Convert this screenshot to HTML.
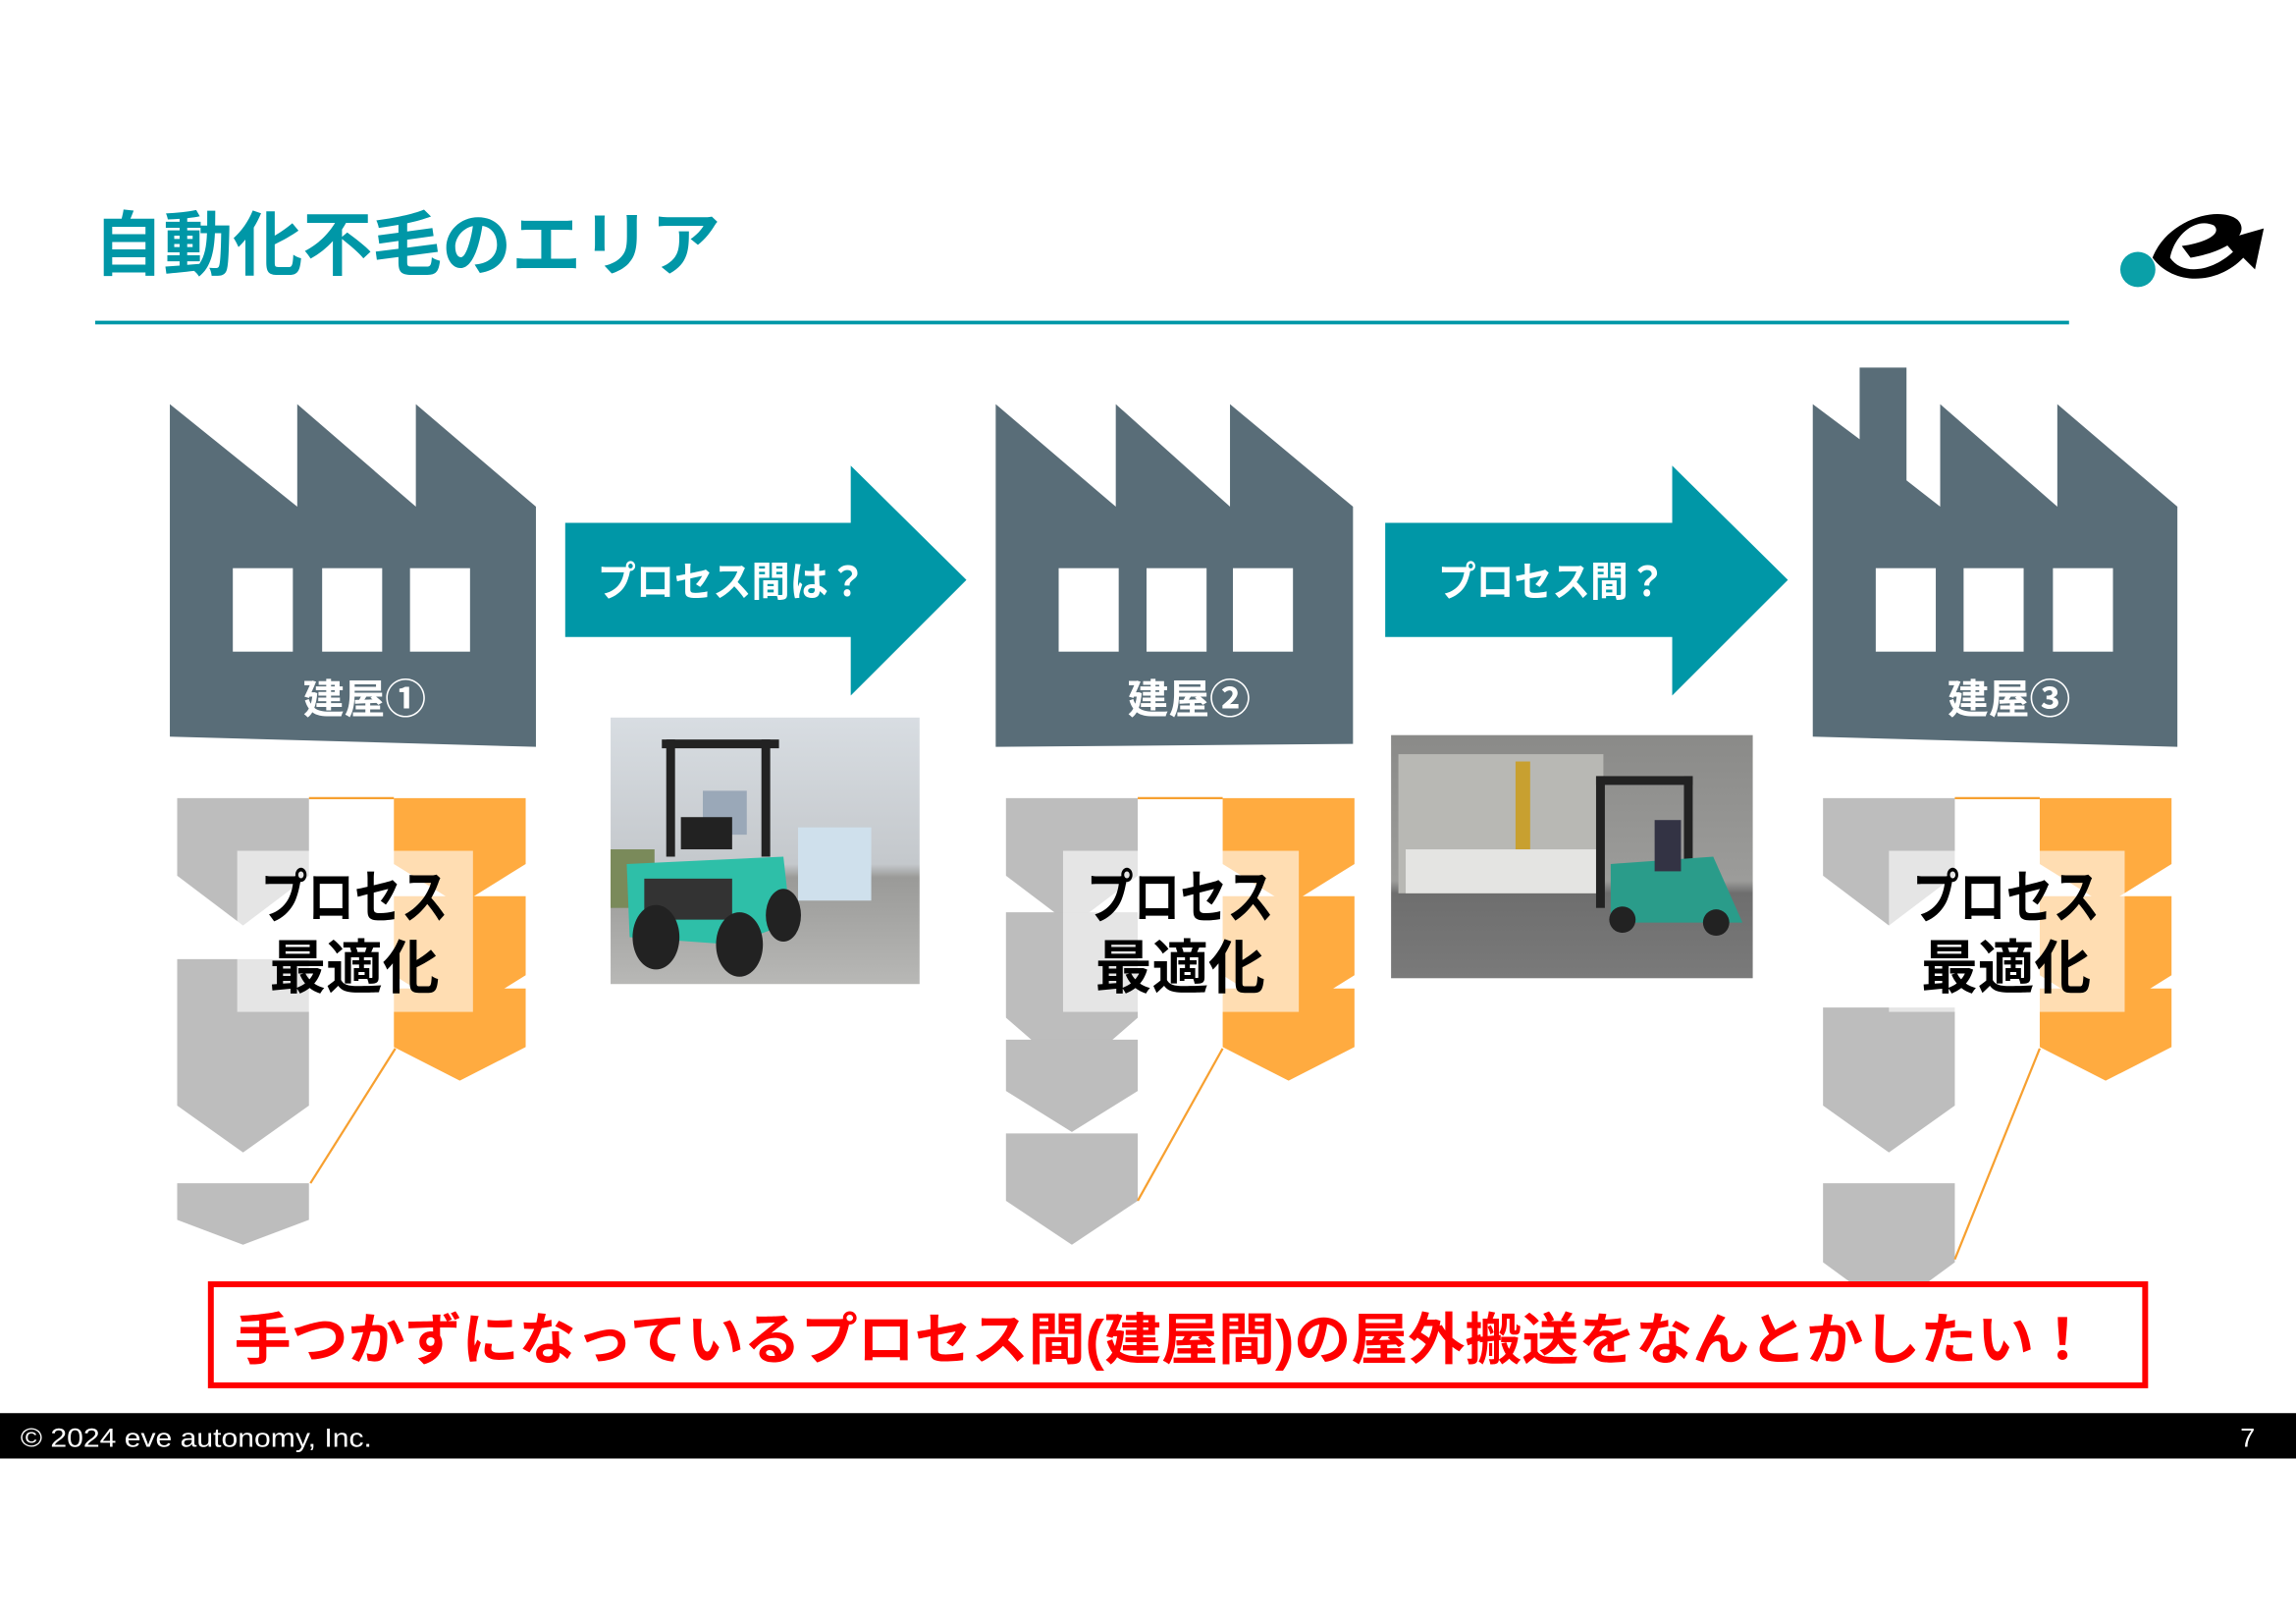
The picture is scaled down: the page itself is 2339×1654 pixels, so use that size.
<!DOCTYPE html>
<html><head><meta charset="utf-8"><style>
html,body{margin:0;padding:0;background:#fff;}
svg{display:block;}
text{font-family:"Liberation Sans","Noto Sans CJK JP",sans-serif;font-weight:bold;}
</style></head><body>
<svg width="2339" height="1654" viewBox="0 0 1568 1109" preserveAspectRatio="none" xmlns="http://www.w3.org/2000/svg">
<rect width="1568" height="1109" fill="#fff"/>
<text x="64" y="184" font-size="48" fill="#0097a7" textLength="428" lengthAdjust="spacingAndGlyphs">自動化不毛のエリア</text>
<rect x="65" y="219" width="1348" height="2.5" fill="#0097a7"/>
<circle cx="1460" cy="184" r="12" fill="#0aa0a8"/>
<path d="M1470 176 C1480 150 1515 140 1528 150 C1538 160 1520 172 1496 176 L1490 168 C1505 166 1518 160 1512 154 C1500 148 1485 160 1482 176 C1490 188 1510 186 1525 172 L1518 164 L1546 156 L1540 184 L1532 176 C1515 194 1485 196 1470 176 Z" fill="#000"/>

<g fill="#596d78">
<path d="M116 276 L203 346 L203 276 L284 346 L284 276 L366 346 L366 510 L116 503 Z"/>
<path d="M680 276 L762 346 L762 276 L840 346 L840 276 L924 346 L924 508 L680 510 Z"/>
<path d="M1238 276 L1270 300 L1270 251 L1302 251 L1302 328 L1325 346 L1325 276 L1405 346 L1405 276 L1487 346 L1487 510 L1238 503 Z"/>
</g>
<g fill="#fff">
<rect x="159" y="388" width="41" height="57"/><rect x="220" y="388" width="41" height="57"/><rect x="280" y="388" width="41" height="57"/>
<rect x="723" y="388" width="41" height="57"/><rect x="783" y="388" width="41" height="57"/><rect x="842" y="388" width="41" height="57"/>
<rect x="1281" y="388" width="41" height="57"/><rect x="1341" y="388" width="41" height="57"/><rect x="1402" y="388" width="41" height="57"/>
</g>
<g fill="#fff" font-size="28" text-anchor="middle">
<text x="249" y="487">建屋①</text>
<text x="812" y="487">建屋②</text>
<text x="1372" y="487">建屋③</text>
</g>

<path d="M386 357 L581 357 L581 318 L660 396 L581 475 L581 435 L386 435 Z" fill="#0097a7"/>
<path d="M946 357 L1142 357 L1142 318 L1221 396 L1142 475 L1142 435 L946 435 Z" fill="#0097a7"/>
<text x="500" y="407" font-size="28" fill="#fff" text-anchor="middle" textLength="184" lengthAdjust="spacingAndGlyphs">プロセス間は？</text>
<text x="1060" y="407" font-size="28" fill="#fff" text-anchor="middle" textLength="156" lengthAdjust="spacingAndGlyphs">プロセス間？</text>

<defs>
<linearGradient id="g1" x1="0" y1="0" x2="0" y2="1"><stop offset="0" stop-color="#d8dde2"/><stop offset="0.55" stop-color="#c4c8cc"/><stop offset="0.6" stop-color="#9a9a98"/><stop offset="1" stop-color="#b8b8b6"/></linearGradient>
<linearGradient id="g2" x1="0" y1="0" x2="0" y2="1"><stop offset="0" stop-color="#8a8a88"/><stop offset="0.6" stop-color="#9c9c9a"/><stop offset="0.65" stop-color="#6e6e6e"/><stop offset="1" stop-color="#7a7a7a"/></linearGradient>
</defs>
<rect x="417" y="490" width="211" height="182" fill="url(#g1)"/>
<rect x="417" y="580" width="30" height="40" fill="#7a8a5a"/>
<rect x="455" y="505" width="6" height="80" fill="#222"/><rect x="520" y="505" width="6" height="80" fill="#222"/>
<rect x="452" y="505" width="80" height="6" fill="#222"/>
<rect x="480" y="540" width="30" height="30" fill="#9aa8b8"/>
<rect x="465" y="558" width="35" height="22" fill="#222"/>
<rect x="545" y="565" width="50" height="50" fill="#cfe0ec"/>
<path d="M428 590 L535 585 L540 630 L500 645 L430 640 Z" fill="#2ebfa8"/>
<rect x="440" y="600" width="60" height="28" fill="#333"/>
<ellipse cx="448" cy="640" rx="16" ry="22" fill="#222"/>
<ellipse cx="505" cy="645" rx="16" ry="22" fill="#222"/>
<ellipse cx="535" cy="625" rx="12" ry="18" fill="#222"/>

<rect x="950" y="502" width="247" height="166" fill="url(#g2)"/>
<rect x="955" y="515" width="140" height="95" fill="#b8b8b4"/>
<rect x="960" y="580" width="130" height="30" fill="#e4e4e2"/>
<rect x="1035" y="520" width="10" height="60" fill="#c8a030"/>
<rect x="1090" y="530" width="6" height="90" fill="#222"/><rect x="1150" y="530" width="6" height="90" fill="#222"/>
<rect x="1090" y="530" width="66" height="6" fill="#222"/>
<path d="M1100 590 L1170 585 L1190 630 L1100 630 Z" fill="#2a9c8a"/>
<rect x="1130" y="560" width="18" height="35" fill="#334"/>
<circle cx="1108" cy="628" r="9" fill="#222"/><circle cx="1172" cy="630" r="9" fill="#222"/>

<g fill="#bdbdbd">
<path d="M121 545 L211 545 L211 598 L166 632 L121 598 Z"/>
<path d="M121 655 L211 655 L211 755 L166 787 L121 755 Z"/>
<path d="M121 808 L211 808 L211 833 L166 850 L121 833 Z"/>
<path d="M687 545 L777 545 L777 598 L732 632 L687 598 Z"/>
<path d="M687 623 L777 623 L777 695 L732 734 L687 695 Z"/>
<path d="M687 710 L777 710 L777 745 L732 773 L687 745 Z"/>
<path d="M687 774 L777 774 L777 820 L732 850 L687 820 Z"/>
<path d="M1245 545 L1335 545 L1335 598 L1290 632 L1245 598 Z"/>
<path d="M1245 688 L1335 688 L1335 755 L1290 787 L1245 755 Z"/>
<path d="M1245 808 L1335 808 L1335 862 L1290 895 L1245 862 Z"/>
</g>
<g fill="#ffab40">
<path d="M269 545 L359 545 L359 590 L314 618 L269 590 Z"/>
<path d="M269 612 L359 612 L359 666 L314 694 L269 666 Z"/>
<path d="M269 675 L359 675 L359 715 L314 738 L269 715 Z"/>
<path d="M835 545 L925 545 L925 590 L880 618 L835 590 Z"/>
<path d="M835 612 L925 612 L925 666 L880 694 L835 666 Z"/>
<path d="M835 675 L925 675 L925 715 L880 738 L835 715 Z"/>
<path d="M1393 545 L1483 545 L1483 590 L1438 618 L1393 590 Z"/>
<path d="M1393 612 L1483 612 L1483 666 L1438 694 L1393 666 Z"/>
<path d="M1393 675 L1483 675 L1483 715 L1438 738 L1393 715 Z"/>
</g>
<g fill="#fff" fill-opacity="0.6">
<rect x="162" y="581" width="161" height="110"/>
<rect x="726" y="581" width="161" height="110"/>
<rect x="1290" y="581" width="161" height="110"/>
</g>
<g stroke="#f7a030" stroke-width="1.5" fill="none">
<line x1="211" y1="545" x2="269" y2="545"/><line x1="270" y1="716" x2="212" y2="808"/>
<line x1="777" y1="545" x2="835" y2="545"/><line x1="835" y1="716" x2="777" y2="820"/>
<line x1="1335" y1="545" x2="1393" y2="545"/><line x1="1393" y1="716" x2="1335" y2="860"/>
</g>
<g font-size="40" fill="#000" text-anchor="middle" lengthAdjust="spacingAndGlyphs">
<text x="242" y="627" textLength="128" lengthAdjust="spacingAndGlyphs">プロセス</text><text x="242" y="675" textLength="116" lengthAdjust="spacingAndGlyphs">最適化</text>
<text x="806" y="627" textLength="128" lengthAdjust="spacingAndGlyphs">プロセス</text><text x="806" y="675" textLength="116" lengthAdjust="spacingAndGlyphs">最適化</text>
<text x="1370" y="627" textLength="128" lengthAdjust="spacingAndGlyphs">プロセス</text><text x="1370" y="675" textLength="116" lengthAdjust="spacingAndGlyphs">最適化</text>
</g>

<rect x="144" y="877" width="1321" height="69" fill="#fff" stroke="#ff0000" stroke-width="4"/>
<text x="160" y="928" font-size="38" fill="#ff0000" textLength="1268" lengthAdjust="spacingAndGlyphs">手つかずになっているプロセス間(建屋間)の屋外搬送をなんとかしたい！</text>

<rect x="0" y="965" width="1568" height="31" fill="#000"/>
<text x="14" y="988" font-size="18" fill="#fff" style="font-weight:normal" textLength="240" lengthAdjust="spacingAndGlyphs">© 2024 eve autonomy, Inc.</text>
<text x="1530" y="988" font-size="18" fill="#fff" style="font-weight:normal">7</text>
</svg>
</body></html>
